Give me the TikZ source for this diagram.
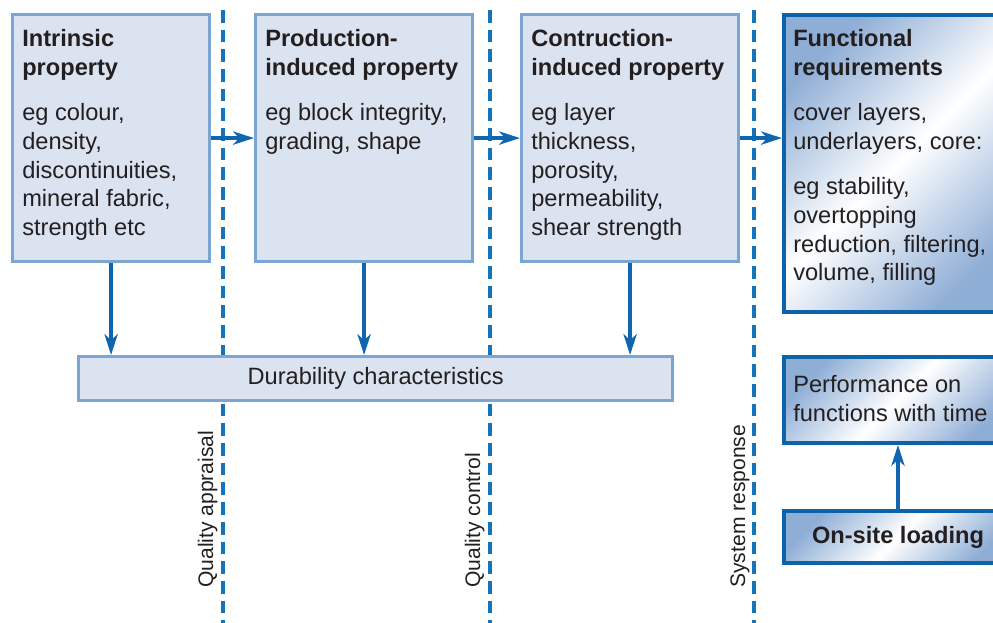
\documentclass[tikz,border=0pt]{standalone}
\usepackage{fontspec}
\setmainfont{Liberation Sans}
\usetikzlibrary{arrows.meta}

\definecolor{boxfill}{HTML}{DCE3F0}
\definecolor{boxline}{HTML}{7BA5D2}
\definecolor{darkline}{HTML}{0D62A8}
\definecolor{arrowblue}{HTML}{0F66AE}
\definecolor{dashblue}{HTML}{1573BB}
\definecolor{shadeblue}{HTML}{8FAED6}
\definecolor{inktext}{HTML}{231F20}

\tikzset{
    prop_box/.style={draw=boxline, fill=boxfill, line width=2.2pt, anchor=north west, inner sep=0pt, text=inktext, font=\fontsize{16.8}{20.4}\selectfont},
    req_box/.style={draw=darkline, line width=2.8pt, anchor=north west, inner sep=0pt, text=inktext, font=\fontsize{16.8}{20.4}\selectfont,
        top color=shadeblue, bottom color=shadeblue, middle color=white, shading angle=45},
    box_text/.style={anchor=north west, inner sep=0pt, align=left, text=inktext, font=\fontsize{16.8}{20.4}\selectfont},
    flow_arrow/.style={-{Stealth[length=0.52cm, width=0.33cm, inset=0.15cm]}, draw=arrowblue, line width=2.4pt},
    stage_line/.style={draw=dashblue, line width=2.5pt, dash pattern=on 9pt off 5pt},
    stage_label/.style={rotate=90, anchor=base west, inner sep=0pt, text=inktext, font=\fontsize{15}{18}\selectfont}
}

\begin{document}
\begin{tikzpicture}[x=0.025cm, y=-0.025cm]
    \useasboundingbox (0,0) rectangle (993,623);
    \clip (0,0) rectangle (993,623);

    % Stage lines
    \draw[stage_line] (223,10) -- (223,630);
    \draw[stage_line] (490,10) -- (490,630);
    \draw[stage_line] (754,10) -- (754,630);

    \node[stage_label] (appraisal_label) at (213,588) {Quality appraisal};
    \node[stage_label] (control_label) at (480,588) {Quality control};
    \node[stage_label] (response_label) at (745,588) {System response};

    % Nodes
    \node[prop_box, minimum width=4.925cm, minimum height=6.175cm] (intrinsic) at (11,13) {};
    \node[prop_box, minimum width=5.425cm, minimum height=6.175cm] (production) at (254,13) {};
    \node[prop_box, minimum width=5.425cm, minimum height=6.175cm] (contruction) at (520,13) {};
    \node[req_box, minimum width=5.7cm, minimum height=7.425cm] (functional) at (782,13) {};
    \node[prop_box, minimum width=14.85cm, minimum height=1.1cm] (durability) at (77,355) {Durability characteristics};
    \node[req_box, minimum width=5.7cm, minimum height=2.15cm] (performance) at (782,355) {};
    \node[req_box, minimum width=5.7cm, minimum height=1.3cm, font=\fontsize{16.8}{20.4}\selectfont\bfseries] (onsite) at (782,509) {On-site loading};

    \node[box_text] (intrinsic_text) at (22,29) {\textbf{Intrinsic}\\\textbf{property}\\[12pt]eg colour,\\density,\\discontinuities,\\mineral fabric,\\strength etc};
    \node[box_text] (production_text) at (265,29) {\textbf{Production-}\\\textbf{induced property}\\[12pt]eg block integrity,\\grading, shape};
    \node[box_text] (contruction_text) at (531,29) {\textbf{Contruction-}\\\textbf{induced property}\\[12pt]eg layer\\thickness,\\porosity,\\permeability,\\shear strength};
    \node[box_text] (functional_text) at (793,29) {\textbf{Functional}\\\textbf{requirements}\\[12pt]cover layers,\\underlayers, core:\\[12pt]eg stability,\\overtopping\\reduction, filtering,\\volume, filling};
    \node[box_text] (performance_text) at (793,375) {Performance on\\functions with time};

    % Arrows
    \draw[flow_arrow] (intrinsic.east) -- (production.west);
    \draw[flow_arrow] (production.east) -- (contruction.west);
    \draw[flow_arrow] (contruction.east) -- (contruction.east -| functional.west);
    \draw[flow_arrow] (intrinsic.south) -- (intrinsic.south |- durability.north);
    \draw[flow_arrow] (production.south) -- (production.south |- durability.north);
    \draw[flow_arrow] (contruction.south) -- (contruction.south |- durability.north);
    \draw[flow_arrow] (onsite.north) -- (onsite.north |- performance.south);
\end{tikzpicture}
\end{document}
